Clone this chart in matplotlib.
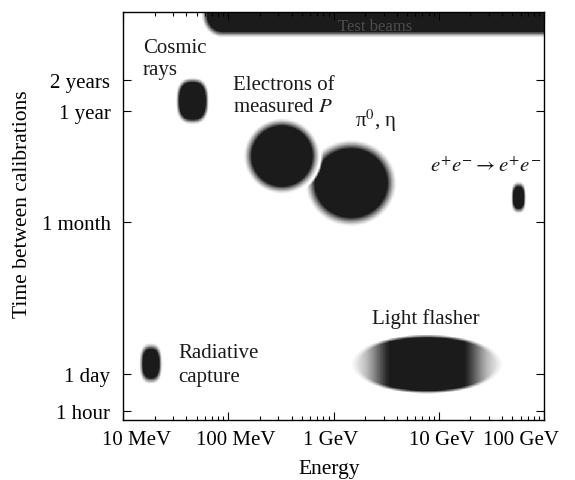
import numpy as np
import matplotlib
matplotlib.use("Agg")
import matplotlib.pyplot as plt
from matplotlib.colors import LinearSegmentedColormap
from matplotlib.transforms import ScaledTranslation

plt.rcParams['font.family'] = ['Liberation Serif', 'DejaVu Serif']
plt.rcParams['mathtext.fontset'] = 'stix'

# ---------------- data ----------------
sources = ["Cosmic rays", "Electrons of measured P", "pi0, eta",
           "e+e- -> e+e-", "Light flasher", "Radiative capture"]
energy_lo_gev = [0.0329, 0.153, 0.600, 49.7, 1.60, 0.01484]
energy_hi_gev = [0.0635, 0.686, 3.60, 66.1, 37.4, 0.02293]
interval_lo_days = [286, 62.1, 30.3, 38.7, 0.212, 0.545]
interval_hi_days = [735, 285, 174, 71.1, 2.34, 1.875]
flasher_core_gev = [3.45, 17.3]

beam_energy_min_gev = 0.0594
beam_interval_min_days = 2037

x_tick_vals = [0.01, 0.1, 1, 10, 100]
x_tick_labels = ["10 MeV", "100 MeV", "1 GeV", "10 GeV", "100 GeV"]
y_tick_vals = [1 / 24, 1, 30.44, 365.25, 730.5]
y_tick_labels = ["1 hour", "1 day", "1 month", "1 year", "2 years"]

# ---------------- y scale: log above 1 day, compressed below ----------------
K = 0.2616


def fwd(t):
    t = np.clip(np.asarray(t, dtype=float), 1e-12, None)
    lt = np.log10(t)
    return np.where(lt >= 0, lt, K * lt)


def inv(v):
    v = np.asarray(v, dtype=float)
    return np.where(v >= 0, 10.0 ** v, 10.0 ** (v / K))


W, H = 575, 481
fig = plt.figure(figsize=(W / 100, H / 100), dpi=100)
ax = fig.add_axes([123 / W, 1 - 421 / H, (544 - 123) / W, (421 - 13) / H])
ax.set_xscale('log')
ax.set_yscale('function', functions=(fwd, inv))
x0, x1 = 0.01, 100
y0, y1 = float(inv(-0.448)), float(inv(3.528))
ax.set_xlim(x0, x1)
ax.set_ylim(y0, y1)

# ---------------- intensity field in scale space ----------------
nu, nv = 700, 680
ue = np.linspace(np.log10(x0), np.log10(x1), nu + 1)
ve = np.linspace(float(fwd(y0)), float(fwd(y1)), nv + 1)
uc = 0.5 * (ue[1:] + ue[:-1])
vc = 0.5 * (ve[1:] + ve[:-1])
UU, VV = np.meshgrid(uc, vc)


def geom(i):
    ul, uh = np.log10(energy_lo_gev[i]), np.log10(energy_hi_gev[i])
    vl, vh = float(fwd(interval_lo_days[i])), float(fwd(interval_hi_days[i]))
    return 0.5 * (ul + uh), 0.5 * (vl + vh), 0.5 * (uh - ul), 0.5 * (vh - vl)


def norm_r(i, p):
    cu, cv, a, b = geom(i)
    return (np.abs(UU - cu) / a) ** p + (np.abs(VV - cv) / b) ** p


def blob(i, p, fuzz):
    cu, cv, a, b = geom(i)
    r = norm_r(i, p) ** (1.0 / p)
    d = (r - 1) * min(a, b)
    return np.clip(0.5 - d / fuzz, 0, 1) ** 1.4


shape_p = [2.6, 2.0, 2.0, 2.6, 2.0, 2.6]
fuzz = [0.035, 0.075, 0.09, 0.025, 0.0, 0.035]

field = np.zeros_like(UU)
for i in [0, 1, 3, 5]:
    field = np.maximum(field, blob(i, shape_p[i], fuzz[i]))

# pi0, eta blob, cut back by a white gap around the electron blob
r_e = norm_r(1, 2.0) ** 0.5
cut = np.clip((r_e - 1.13) / 0.07, 0, 1)
field = np.maximum(field, blob(2, 2.0, fuzz[2]) * cut)

# light flasher: dark core, smoothly fading sides
cu, cv, a, b = geom(4)
r = np.sqrt(((UU - cu) / a) ** 2 + ((VV - cv) / b) ** 2)
edge = np.clip(0.5 - (r - 1) * b / 0.03, 0, 1)
cl, ch = np.log10(flasher_core_gev[0]), np.log10(flasher_core_gev[1])
half_core = 0.5 * (ch - cl)
du = np.abs(UU - cu)
frac = np.clip((du - half_core) / (a - half_core), 0, 1)
side = 1 - 0.85 * (3 * frac ** 2 - 2 * frac ** 3) ** 0.7
field = np.maximum(field, edge * side)

# test beams band at the top
ul = np.log10(beam_energy_min_gev)
vb = float(fwd(beam_interval_min_days))
ru, rv = 0.17, 0.19
d_rect = np.maximum(ul - UU, vb - VV)
in_corner = (UU < ul + ru) & (VV < vb + rv)
dc = (np.sqrt(((UU - (ul + ru)) / ru) ** 2 + ((VV - (vb + rv)) / rv) ** 2) - 1) * 0.18
d_band = np.where(in_corner, np.maximum(dc, d_rect), d_rect)
band = np.clip(0.5 - d_band / 0.055, 0, 1) ** 1.2
field = np.maximum(field, band)

ink = LinearSegmentedColormap.from_list('ink', ['#ffffff', '#1b1b1b'])
ax.pcolormesh(10.0 ** ue, inv(ve), field, cmap=ink, vmin=0, vmax=1,
              shading='flat', rasterized=True, zorder=1)

# ---------------- axes styling ----------------
for s in ax.spines.values():
    s.set_linewidth(1.0)
    s.set_zorder(5)

ax.set_xticks(x_tick_vals)
ax.set_xticklabels(x_tick_labels, fontsize=15)
ax.xaxis.set_minor_locator(matplotlib.ticker.LogLocator(base=10, subs=np.arange(2, 10)))
ax.xaxis.set_minor_formatter(matplotlib.ticker.NullFormatter())
ax.set_yticks(y_tick_vals)
ax.set_yticklabels(y_tick_labels, fontsize=15)
ax.yaxis.set_minor_locator(matplotlib.ticker.NullLocator())
ax.tick_params(axis='both', which='both', direction='in', top=True, right=True,
               width=0.8)
ax.tick_params(axis='both', which='major', length=6)
ax.tick_params(axis='both', which='minor', length=3)
ax.tick_params(axis='x', pad=7)
ax.tick_params(axis='y', pad=9)

x_offsets = [14, 8, -3, 3, -23]
for lab, dx in zip(ax.get_xticklabels(), x_offsets):
    lab.set_transform(lab.get_transform() + ScaledTranslation(dx / 100, 0, fig.dpi_scale_trans))


def P(x, y):
    return x / W, 1 - y / H


fs = 15
txt = dict(fontsize=fs, ha='left', va='baseline', color='#1a1a1a')
fig.text(*P(143, 53), "Cosmic", **txt)
fig.text(*P(143, 75), "rays", **txt)
fig.text(*P(233, 90), "Electrons of", **txt)
fig.text(*P(233, 112), "measured $P$", **txt)
fig.text(*P(355, 127), "π$^0$, η", **txt)
fig.text(*P(430, 172), r"$e^{+}e^{-}\rightarrow e^{+}e^{-}$", **txt)
fig.text(*P(372, 324), "Light flasher", **txt)
fig.text(*P(178, 358), "Radiative", **txt)
fig.text(*P(178, 382), "capture", **txt)
fig.text(*P(338, 31), "Test beams", fontsize=12, ha='left', va='baseline',
         color='#6e6e6e', alpha=0.6, zorder=3)

fig.text(*P(329, 470), "Energy", fontsize=15.5, ha='center', va='center')
fig.text(*P(23, 204), "Time between calibrations", fontsize=15.5, ha='center',
         va='center', rotation=90)

fig.savefig("out.png", dpi=100)
